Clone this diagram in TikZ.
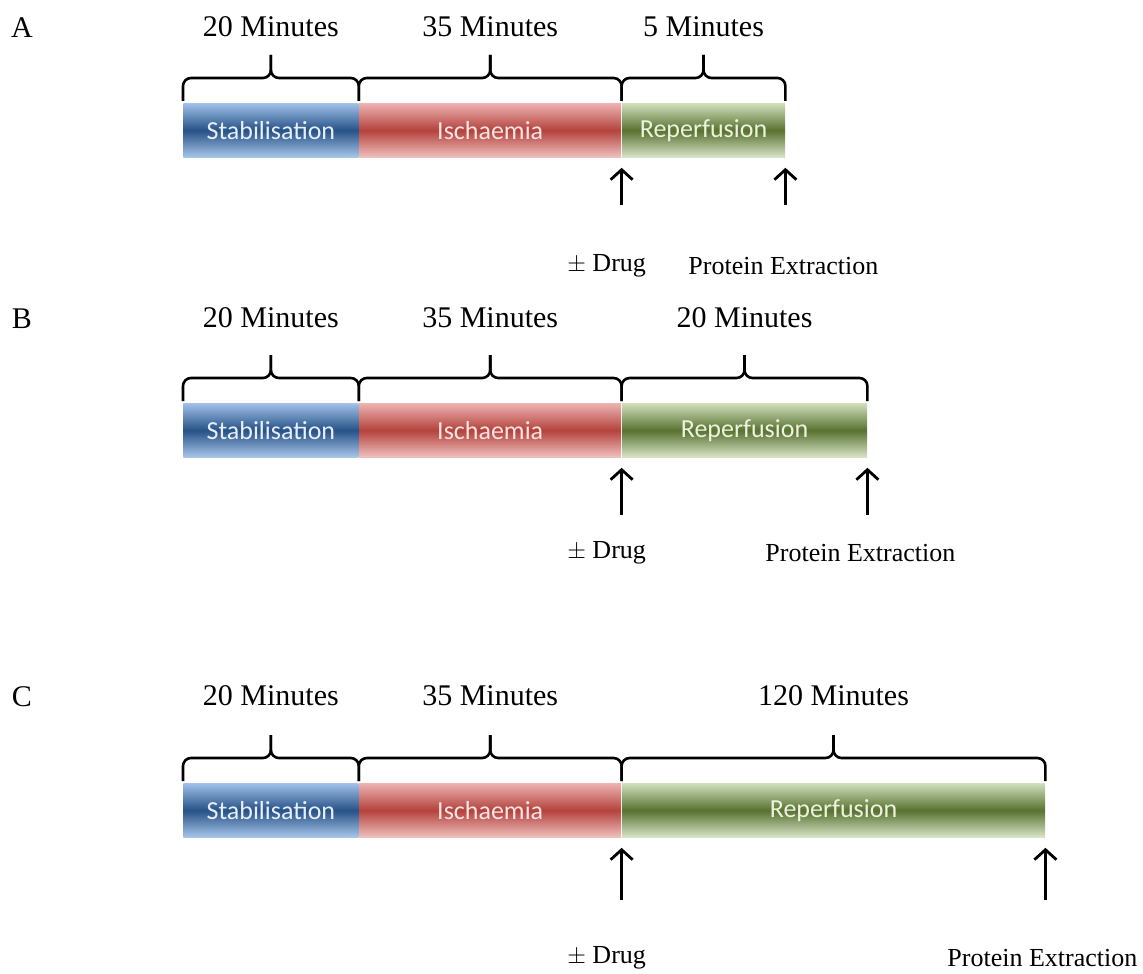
\documentclass[tikz,border=0pt]{standalone}
\usepackage{fontspec}
\setmainfont{Liberation Serif}
\newfontfamily\carlito{Carlito}
\usetikzlibrary{positioning}
\usetikzlibrary{calc}
\usetikzlibrary{arrows.meta}
\definecolor{stabtop}{RGB}{160,192,232}
\definecolor{stabmid}{RGB}{38,82,135}
\definecolor{ischtop}{RGB}{236,178,176}
\definecolor{ischmid}{RGB}{180,66,60}
\definecolor{reptop}{RGB}{208,222,188}
\definecolor{repmid}{RGB}{88,114,48}

\begin{document}
\begin{tikzpicture}[x=0.5pt, y=-0.5pt,
    bar/.style={minimum height=27pt, inner sep=0pt, font=\carlito\fontsize{13}{13}\selectfont},
    stab/.style={bar, top color=stabtop, bottom color=stabtop!90!white, middle color=stabmid, text={rgb,255:red,232;green,238;blue,248}},
    isch/.style={bar, top color=ischtop, bottom color=ischtop!80!white, middle color=ischmid, text={rgb,255:red,248;green,228;blue,228}},
    rep/.style={bar, top color=reptop, bottom color=reptop!80!white, middle color=repmid, text={rgb,255:red,236;green,242;blue,222}},
    bracket/.style={line width=1.3pt, rounded corners=4pt},
    arr/.style={line width=1.4pt, -{Straight Barb[length=5pt, width=11pt, line width=1.4pt]}},
    mins/.style={font=\fontsize{15}{15}\selectfont},
    small/.style={font=\fontsize{13}{13}\selectfont}]
    \useasboundingbox (0,0) rectangle (1143,973);

    \foreach \n/\yl/\yb/\ya/\yt/\wr/\tr/\dx in {A/27/103/205/266/81.5/5/-1, B/318/403/515/553/122.5/20/-3.5, C/696/783/900/958/211.5/120/-1.5} {
        \node[mins] (lab\n) at (22,\yl+1) {\n};
        % the three bars
        \node[stab, anchor=north west, minimum width=87.5pt] (stab\n) at (183,\yb) {Stabilisation};
        \node[isch, right=0pt of stab\n, minimum width=131pt] (isch\n) {Ischaemia};
        \node[rep, right=0pt of isch\n, minimum width=\wr pt] (rep\n) {Reperfusion};
        % braces and times
        \foreach \s/\t in {stab/20, isch/35, rep/\tr} {
            \draw[bracket] ([yshift=1pt]\s\n.north west) |- ([yshift=12.5pt]\s\n.north) -- ([yshift=24pt]\s\n.north);
            \draw[bracket] ([yshift=24pt]\s\n.north) -- ([yshift=12.5pt]\s\n.north) -| ([yshift=1pt]\s\n.north east);
            \node[mins] (t\s\n) at (\s\n.north |- 0,\yl) {\t\ Minutes};
        }
        % drug and extraction
        \coordinate (d\n) at (rep\n.south west |- 0,\ya);
        \coordinate (e\n) at (rep\n.south east |- 0,\ya);
        \draw[arr] (d\n) -- ([yshift=-5pt]rep\n.south west);
        \draw[arr] (e\n) -- ([yshift=-5pt]rep\n.south east);
        \node[small] (drug\n) at ([xshift=-7.5pt]d\n |- 0,\yt) {$\pm$ Drug};
        \node[small] (prot\n) at ([xshift=\dx pt]e\n |- 0,\yt) {Protein Extraction};
    }
\end{tikzpicture}
\end{document}
